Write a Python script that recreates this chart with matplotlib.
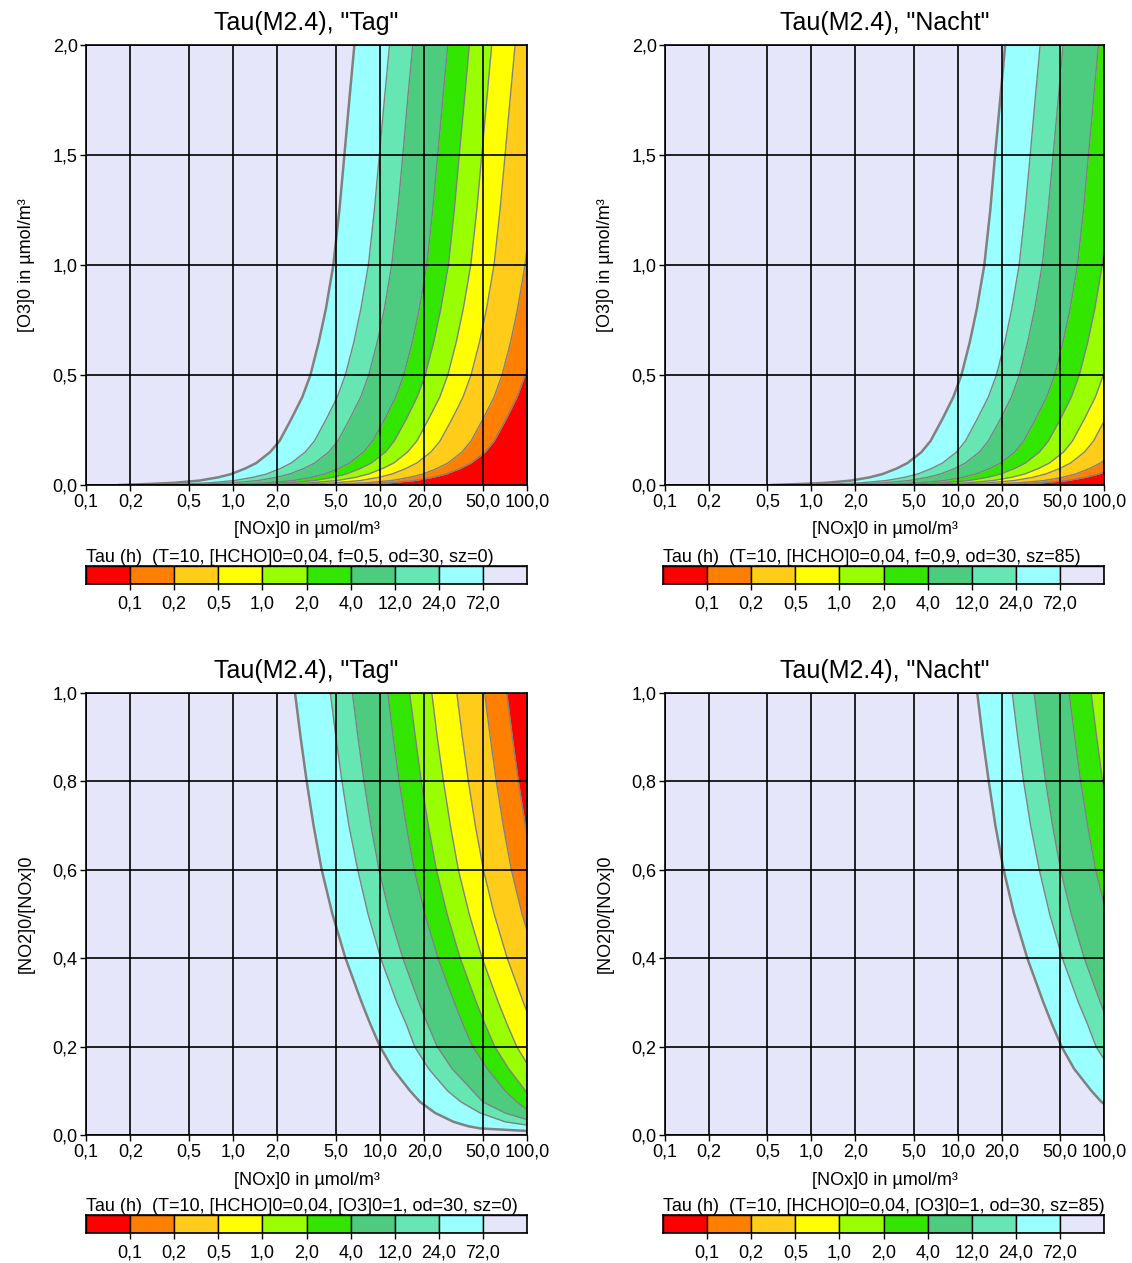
import numpy as np
import matplotlib
matplotlib.use('Agg')
import matplotlib.pyplot as plt

plt.rcParams['font.family'] = ['Liberation Sans', 'DejaVu Sans']
plt.rcParams['font.size'] = 13

# tau classes (h), colour bands from short (red) to long (lavender)
TAU_LEVELS = [0.1, 0.2, 0.5, 1.0, 2.0, 4.0, 12.0, 24.0, 72.0]
TAU_LABELS = ['0,1', '0,2', '0,5', '1,0', '2,0', '4,0', '12,0', '24,0', '72,0']
COLORS = ['#ff0000', '#ff8000', '#ffcc1a', '#ffff00', '#99ff00',
          '#33e600', '#4dcc80', '#66e6b3', '#99ffff', '#e6e6fa']

X_TICKS = [0.1, 0.2, 0.5, 1, 2, 5, 10, 20, 50, 100]
X_LABELS = ['0,1', '0,2', '0,5', '1,0', '2,0', '5,0', '10,0', '20,0', '50,0', '100,0']

# --- top row: y = [O3]0; each tau boundary gives [NOx]0 at these O3 levels
O3_LEVELS = [0.0, 0.005, 0.01, 0.02, 0.035, 0.05, 0.075, 0.1, 0.15, 0.2,
             0.3, 0.4, 0.5, 0.65, 0.8, 1.0, 1.25, 1.5, 1.75, 2.0]

TAG_O3 = {
    72.0: [0.168, 0.274, 0.399, 0.590, 0.794, 0.974, 1.21, 1.44, 1.79, 2.07,
           2.49, 2.96, 3.36, 3.83, 4.28, 4.81, 5.29, 5.72, 6.18, 6.69],
    24.0: [0.292, 0.474, 0.690, 1.02, 1.37, 1.69, 2.10, 2.49, 3.10, 3.58,
           4.31, 5.12, 5.81, 6.64, 7.40, 8.33, 9.15, 9.89, 10.7, 11.6],
    12.0: [0.421, 0.683, 0.995, 1.47, 1.98, 2.43, 3.03, 3.60, 4.48, 5.16,
           6.22, 7.39, 8.38, 9.57, 10.7, 12.0, 13.2, 14.3, 15.4, 16.7],
    4.0: [0.728, 1.18, 1.72, 2.55, 3.43, 4.21, 5.24, 6.22, 7.75, 8.92,
          10.8, 12.8, 14.5, 16.6, 18.5, 20.8, 22.8, 24.7, 26.7, 28.9],
    2.0: [1.02, 1.66, 2.42, 3.57, 4.81, 5.90, 7.35, 8.73, 10.9, 12.5,
          15.1, 17.9, 20.3, 23.2, 25.9, 29.2, 32.0, 34.6, 37.5, 40.5],
    1.0: [1.45, 2.36, 3.43, 5.08, 6.84, 8.38, 10.4, 12.4, 15.4, 17.8,
          21.4, 25.5, 28.9, 33.0, 36.8, 41.4, 45.5, 49.2, 53.2, 57.5],
    0.5: [2.09, 3.39, 4.94, 7.31, 9.84, 12.1, 15.0, 17.8, 22.2, 25.6,
          30.9, 36.7, 41.6, 47.5, 53.0, 59.6, 65.5, 70.9, 76.6, 82.9],
    0.2: [3.39, 5.52, 8.03, 11.9, 16.0, 19.6, 24.4, 29.0, 36.1, 41.6,
          50.2, 59.7, 67.6, 77.3, 86.2, 96.9, 107, 115, 125, 135],
    0.1: [4.87, 7.91, 11.5, 17.0, 22.9, 28.1, 35.0, 41.6, 51.8, 59.7,
          72.0, 85.5, 96.9, 111, 124, 139, 153, 165, 179, 193],
}

NACHT_O3 = {
    72.0: [0.531, 0.864, 1.26, 1.86, 2.51, 3.07, 3.83, 4.54, 5.66, 6.52,
           7.86, 9.34, 10.6, 12.1, 13.5, 15.2, 16.7, 18.0, 19.5, 21.1],
    24.0: [0.922, 1.50, 2.18, 3.23, 4.35, 5.33, 6.64, 7.88, 9.81, 11.3,
           13.6, 16.2, 18.4, 21.0, 23.4, 26.3, 28.9, 31.3, 33.8, 36.6],
    12.0: [1.32, 2.15, 3.13, 4.63, 6.24, 7.65, 9.53, 11.3, 14.1, 16.2,
           19.6, 23.3, 26.4, 30.1, 33.6, 37.8, 41.5, 44.9, 48.6, 52.5],
    4.0: [2.31, 3.75, 5.46, 8.08, 10.9, 13.3, 16.6, 19.7, 24.6, 28.3,
          34.1, 40.6, 46.0, 52.5, 58.6, 65.9, 72.4, 78.3, 84.7, 91.6],
    2.0: [3.40, 5.53, 8.06, 11.9, 16.1, 19.7, 24.5, 29.1, 36.2, 41.7,
          50.4, 59.8, 67.8, 77.5, 86.5, 97.2, 107, 116, 125, 135],
    1.0: [4.96, 8.07, 11.7, 17.4, 23.4, 28.7, 35.7, 42.4, 52.9, 60.9,
          73.4, 87.3, 98.9, 113, 126, 142, 156, 168, 182, 197],
    0.5: [6.91, 11.2, 16.4, 24.2, 32.6, 40.0, 49.8, 59.1, 73.6, 84.8,
          102, 121, 138, 157, 176, 197, 217, 235, 254, 274],
    0.2: [11.1, 18.0, 26.2, 38.8, 52.2, 64.1, 79.8, 94.7, 118, 136,
          164, 195, 221, 252, 281, 317, 348, 376, 407, 440],
    0.1: [15.9, 25.9, 37.7, 55.7, 75.0, 92.0, 115, 136, 169, 195,
          235, 280, 317, 362, 404, 454, 499, 540, 584, 632],
}

# --- bottom row: y = [NO2]0/[NOx]0
RATIO_LEVELS = [0.0, 0.005, 0.01, 0.015, 0.02, 0.03, 0.05, 0.075, 0.1, 0.15,
                0.2, 0.25, 0.3, 0.4, 0.5, 0.6, 0.7, 0.8, 0.9, 1.0]

TAG_RATIO = {
    72.0: [400, 200, 91.2, 47.9, 39.8, 31.6, 23.7, 18.7, 16.0, 12.2,
           10.0, 8.61, 7.50, 5.82, 4.74, 4.01, 3.53, 3.17, 2.88, 2.64],
    24.0: [1000, 500, 251, 158, 112, 70.8, 47.9, 35.5, 28.8, 21.4,
           17.2, 15.1, 13.0, 10.1, 8.28, 7.05, 6.14, 5.51, 5.01, 4.59],
    12.0: [1260, 631, 316, 200, 158, 112, 70.8, 50.1, 42.7, 30.9,
           24.5, 21.1, 18.4, 14.3, 11.6, 9.84, 8.67, 7.78, 7.08, 6.49],
    4.0: [1580, 794, 398, 282, 224, 158, 107, 85.1, 70.8, 53.7,
          42.7, 36.7, 32.0, 24.8, 20.2, 17.1, 15.1, 13.5, 12.3, 11.3],
    2.0: [2000, 1000, 562, 398, 316, 224, 151, 117, 97.7, 75.0,
          60.3, 51.9, 45.2, 35.1, 28.6, 24.2, 21.3, 19.1, 17.4, 15.9],
    1.0: [2820, 1410, 794, 562, 447, 316, 214, 166, 138, 105,
          85.1, 73.3, 63.8, 49.5, 40.4, 34.1, 30.1, 27.0, 24.5, 22.5],
    0.5: [3980, 2000, 1170, 832, 661, 468, 316, 245, 204, 155,
          126, 108, 94.4, 73.3, 59.7, 50.5, 44.5, 39.9, 36.3, 33.3],
    0.2: [6310, 3160, 1780, 1260, 1000, 724, 490, 380, 316, 240,
          195, 168, 146, 114, 92.5, 78.2, 68.9, 61.8, 56.2, 51.5],
    0.1: [8910, 4470, 2510, 1780, 1410, 1000, 692, 537, 447, 339,
          275, 237, 207, 160, 131, 110, 97.3, 87.3, 79.4, 72.8],
}

NACHT_RATIO = {
    72.0: [2040, 1020, 468, 245, 204, 162, 122, 95.9, 82.0, 62.4,
           51.3, 44.2, 38.5, 29.9, 24.3, 20.6, 18.1, 16.3, 14.8, 13.6],
    24.0: [5130, 2570, 1290, 813, 575, 363, 245, 182, 148, 110,
           88.1, 77.3, 66.8, 51.9, 42.5, 36.1, 31.5, 28.2, 25.7, 23.6],
    12.0: [6460, 3240, 1620, 1020, 813, 575, 363, 257, 219, 158,
           126, 108, 94.4, 73.3, 59.7, 50.5, 44.5, 39.9, 36.3, 33.3],
    4.0: [8130, 4070, 2040, 1450, 1150, 813, 550, 437, 363, 275,
          219, 188, 164, 127, 104, 87.7, 77.3, 69.3, 63.1, 57.8],
    2.0: [10200, 5130, 2880, 2040, 1620, 1150, 776, 603, 501, 385,
          309, 266, 232, 180, 147, 124, 109, 97.9, 89.1, 81.7],
}

O3_TICKS = [0, 0.5, 1.0, 1.5, 2.0]
O3_LABELS = ['0,0', '0,5', '1,0', '1,5', '2,0']
RATIO_TICKS = [0, 0.2, 0.4, 0.6, 0.8, 1.0]
RATIO_LABELS = ['0,0', '0,2', '0,4', '0,6', '0,8', '1,0']

PANELS = [
    ([0.0760, 0.6160, 0.3896, 0.3484], 'Tau(M2.4), "Tag"', TAG_O3, O3_LEVELS, 2.0,
     O3_TICKS, O3_LABELS, '[O3]0 in µmol/m³',
     [0.0760, 0.5376, 0.3896, 0.0143], 'Tau (h)  (T=10, [HCHO]0=0,04, f=0,5, od=30, sz=0)'),
    ([0.5875, 0.6160, 0.3878, 0.3484], 'Tau(M2.4), "Nacht"', NACHT_O3, O3_LEVELS, 2.0,
     O3_TICKS, O3_LABELS, '[O3]0 in µmol/m³',
     [0.5857, 0.5376, 0.3896, 0.0143], 'Tau (h)  (T=10, [HCHO]0=0,04, f=0,9, od=30, sz=85)'),
    ([0.0760, 0.1013, 0.3896, 0.3500], 'Tau(M2.4), "Tag"', TAG_RATIO, RATIO_LEVELS, 1.0,
     RATIO_TICKS, RATIO_LABELS, '[NO2]0/[NOx]0',
     [0.0760, 0.0238, 0.3896, 0.0143], 'Tau (h)  (T=10, [HCHO]0=0,04, [O3]0=1, od=30, sz=0)'),
    ([0.5875, 0.1013, 0.3878, 0.3500], 'Tau(M2.4), "Nacht"', NACHT_RATIO, RATIO_LEVELS, 1.0,
     RATIO_TICKS, RATIO_LABELS, '[NO2]0/[NOx]0',
     [0.5857, 0.0238, 0.3896, 0.0143], 'Tau (h)  (T=10, [HCHO]0=0,04, [O3]0=1, od=30, sz=85)'),
]

fig = plt.figure(figsize=(11.32, 12.63), dpi=100)

for rect, title, data, ylev, ymax, yt, ytl, ylab, crect, ctext in PANELS:
    ax = fig.add_axes(rect)
    ax.set_xscale('log')
    y = np.array(ylev)
    # boundaries from long tau (left) to short tau (right)
    taus = sorted(data.keys(), reverse=True)
    bounds = [np.array(data[t]) for t in taus]
    band_colors = COLORS[::-1]
    n = len(bounds)
    for k in range(n + 1):
        left = bounds[k - 1] if k > 0 else np.full_like(y, 0.01)
        right = bounds[k] if k < n else np.full_like(y, 1e6)
        ax.fill_betweenx(y, left, right, color=band_colors[k], lw=0, zorder=1)
    for k, b in enumerate(bounds):
        ax.plot(b, y, color='#808080', lw=1.8 if k == 0 else 1.0, zorder=2)
    ax.set_xlim(0.1, 100)
    ax.set_ylim(0, ymax)
    ax.set_xticks(X_TICKS)
    ax.set_xticklabels(X_LABELS)
    ax.xaxis.set_minor_locator(matplotlib.ticker.NullLocator())
    ax.set_yticks(yt)
    ax.set_yticklabels(ytl)
    ax.grid(True, color='black', lw=1.2, zorder=3)
    ax.set_axisbelow(False)
    ax.tick_params(direction='out', length=4, width=1, pad=2, labelsize=13)
    for s in ax.spines.values():
        s.set_linewidth(1.2)
        s.set_zorder(4)
    ax.set_title(title, fontsize=18, pad=10.5)
    ax.set_xlabel('[NOx]0 in µmol/m³', fontsize=13, labelpad=8)
    ax.set_ylabel(ylab, fontsize=13, labelpad=13)

    cax = fig.add_axes(crect)
    cax.bar(np.arange(10) + 0.5, 1, width=1, color=COLORS, edgecolor='black', lw=1)
    cax.set_xlim(0, 10)
    cax.set_ylim(0, 1)
    cax.set_yticks([])
    cax.set_xticks(np.arange(1, 10))
    cax.set_xticklabels(TAU_LABELS)
    cax.tick_params(direction='out', length=4, width=1, pad=4, labelsize=13)
    for s in cax.spines.values():
        s.set_linewidth(1.2)
    cax.text(0, 0.98, ctext, transform=cax.transAxes, ha='left', va='bottom', fontsize=13)

fig.savefig('out.png', dpi=100)
